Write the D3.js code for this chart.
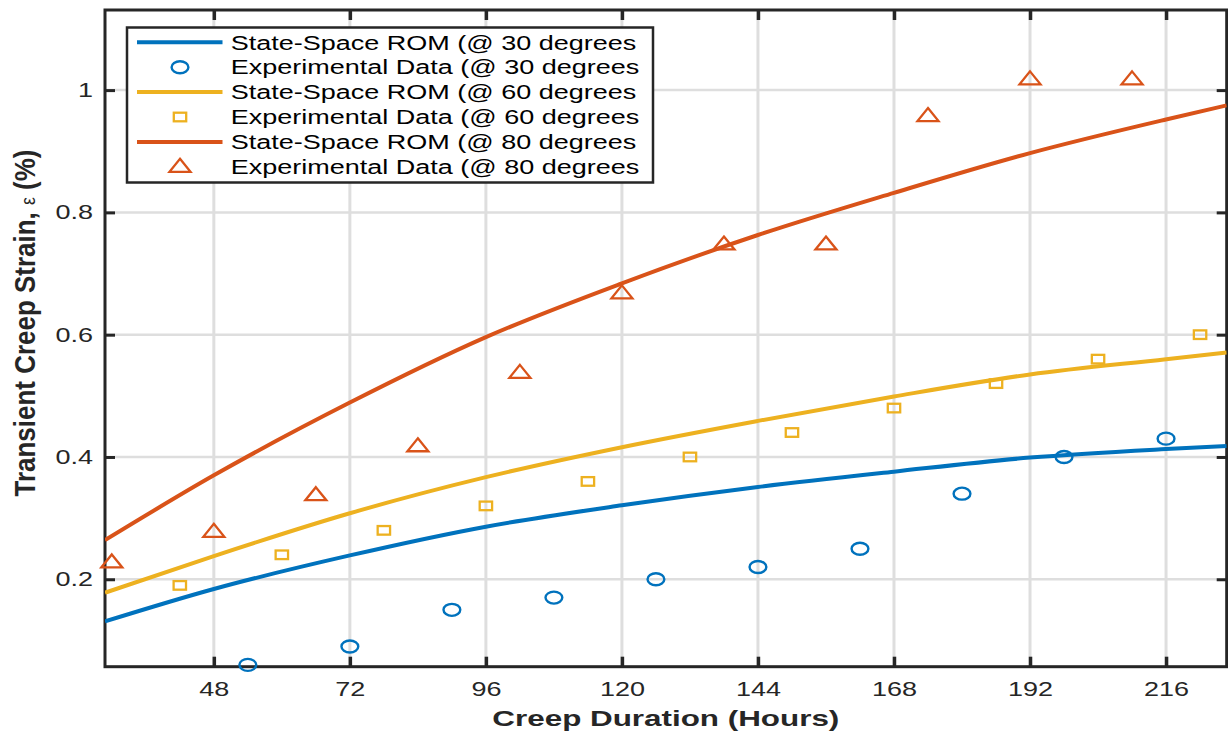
<!DOCTYPE html>
<html>
<head>
<meta charset="utf-8">
<script src="https://cdn.jsdelivr.net/npm/d3@7"></script>
<style>
  html, body { margin: 0; padding: 0; background: #fff; }
  svg { display: block; font-family: Arial, "Liberation Sans", Helvetica, sans-serif; }
</style>
</head>
<body>
<svg id="chart" width="1228" height="733"></svg>
<script>
// axis setup
const xDomain = [28.8, 226.7];
const yDomain = [0.057, 1.131];
const xTicks = [48, 72, 96, 120, 144, 168, 192, 216];
const yTicks = [0.2, 0.4, 0.6, 0.8, 1];
const yTickLabels = ['0.2', '0.4', '0.6', '0.8', '1'];

// state-space ROM curves
const modelHours = [28.8, 48, 72, 96, 120, 144, 168, 192, 216, 226.7];
const model30 = [0.131, 0.184, 0.239, 0.286, 0.321, 0.351, 0.376, 0.399, 0.413, 0.418];
const model60 = [0.178, 0.238, 0.308, 0.367, 0.416, 0.459, 0.499, 0.535, 0.560, 0.571];
const model80 = [0.264, 0.370, 0.489, 0.596, 0.684, 0.763, 0.832, 0.897, 0.952, 0.975];

// experimental points
const hours30 = [54, 72, 90, 108, 126, 144, 162, 180, 198, 216];
const exp30 = [0.06, 0.09, 0.15, 0.17, 0.20, 0.22, 0.25, 0.34, 0.40, 0.43];
const hours60 = [42, 60, 78, 96, 114, 132, 150, 168, 186, 204, 222];
const exp60 = [0.19, 0.24, 0.28, 0.32, 0.36, 0.40, 0.44, 0.48, 0.52, 0.56, 0.60];
const hours80 = [30, 48, 66, 84, 102, 120, 138, 156, 174, 192, 210];
const exp80 = [0.23, 0.28, 0.34, 0.42, 0.54, 0.67, 0.75, 0.75, 0.96, 1.02, 1.02];

const legendLabels = [
    'State-Space ROM (@ 30 degrees',
    'Experimental Data (@ 30 degrees',
    'State-Space ROM (@ 60 degrees',
    'Experimental Data (@ 60 degrees',
    'State-Space ROM (@ 80 degrees',
    'Experimental Data (@ 80 degrees'
];

const BLUE = '#0072BD';
const YELLOW = '#EDB120';
const ORANGE = '#D95319';
const AXIS = '#262626';
const GRID = '#dedede';

// the figure was stretched sideways, so text is widened by this factor
const SX = 1.35;

const L = 105, R = 1226.7, T = 10, B = 666.7;

const svg = d3.select('#chart');

const x = d3.scaleLinear().domain(xDomain).range([L, R]);
const y = d3.scaleLinear().domain(yDomain).range([B, T]);

function stretch(sel) {
    sel.each(function () {
        const len = this.getComputedTextLength();
        d3.select(this)
            .attr('textLength', len * SX)
            .attr('lengthAdjust', 'spacingAndGlyphs');
    });
}

// grid
const grid = svg.append('g');
grid.selectAll('line.vx').data(xTicks).enter().append('line')
    .attr('x1', d => x(d)).attr('x2', d => x(d))
    .attr('y1', T).attr('y2', B)
    .attr('stroke', GRID).attr('stroke-width', 3);
grid.selectAll('line.hy').data(yTicks).enter().append('line')
    .attr('x1', L).attr('x2', R)
    .attr('y1', d => y(d)).attr('y2', d => y(d))
    .attr('stroke', GRID).attr('stroke-width', 2.5);

// axes, ticks pointing inward
function styleAxis(g) {
    g.select('.domain').remove();
    g.selectAll('.tick line').attr('stroke', AXIS).attr('stroke-width', 3);
    g.selectAll('.tick text')
        .attr('fill', AXIS)
        .style('font-size', '20px')
        .style('font-family', 'Arial, "Liberation Sans", Helvetica, sans-serif');
}

const gx = svg.append('g').attr('transform', `translate(0,${B})`)
    .call(d3.axisBottom(x).tickValues(xTicks).tickSize(-10).tickPadding(15));
styleAxis(gx);
gx.selectAll('.tick line').attr('stroke-width', 3.5);

const gxTop = svg.append('g').attr('transform', `translate(0,${T})`)
    .call(d3.axisTop(x).tickValues(xTicks).tickSize(-10).tickFormat(''));
styleAxis(gxTop);
gxTop.selectAll('.tick line').attr('stroke-width', 3.5);

const gy = svg.append('g').attr('transform', `translate(${L},0)`)
    .call(d3.axisLeft(y).tickValues(yTicks).tickSize(-10).tickPadding(12)
        .tickFormat((d, i) => yTickLabels[i]));
styleAxis(gy);

const gyRight = svg.append('g').attr('transform', `translate(${R},0)`)
    .call(d3.axisRight(y).tickValues(yTicks).tickSize(-10).tickFormat(''));
styleAxis(gyRight);

stretch(gx.selectAll('.tick text'));
stretch(gy.selectAll('.tick text'));

// box
svg.append('rect')
    .attr('x', L).attr('y', T)
    .attr('width', R - L).attr('height', B - T)
    .attr('fill', 'none')
    .attr('stroke', AXIS)
    .attr('stroke-width', 3);

// axis titles
svg.append('text')
    .attr('x', (L + R) / 2)
    .attr('y', 726)
    .attr('text-anchor', 'middle')
    .attr('fill', AXIS)
    .style('font-size', '22px')
    .style('font-weight', 'bold')
    .attr('textLength', 347)
    .attr('lengthAdjust', 'spacingAndGlyphs')
    .text('Creep Duration (Hours)');

const yTitle = svg.append('text')
    .attr('transform', `translate(35,323) rotate(-90) scale(1,${SX})`)
    .attr('text-anchor', 'middle')
    .attr('fill', AXIS)
    .style('font-size', '22px')
    .style('font-weight', 'bold')
    .attr('textLength', 347)
    .attr('lengthAdjust', 'spacingAndGlyphs');
yTitle.append('tspan').text('Transient Creep Strain, ');
yTitle.append('tspan').style('font-weight', 'normal').style('font-size', '15px').text('ε');
yTitle.append('tspan').text(' (%)');

// clip for curves
svg.append('defs').append('clipPath').attr('id', 'plot-clip')
    .append('rect').attr('x', L).attr('y', T).attr('width', R - L).attr('height', B - T);

const line = d3.line()
    .x(d => x(d[0]))
    .y(d => y(d[1]))
    .curve(d3.curveMonotoneX);

const curves = [
    { values: model30, color: BLUE },
    { values: model60, color: YELLOW },
    { values: model80, color: ORANGE }
];

curves.forEach(c => {
    svg.append('path')
        .datum(modelHours.map((h, i) => [h, c.values[i]]))
        .attr('d', line)
        .attr('fill', 'none')
        .attr('stroke', c.color)
        .attr('stroke-width', 4)
        .attr('clip-path', 'url(#plot-clip)');
});

// marker drawing (sizes are in screen pixels)
function drawCircle(g, cx, cy, color) {
    g.append('ellipse')
        .attr('cx', cx).attr('cy', cy)
        .attr('rx', 8.4).attr('ry', 6)
        .attr('fill', 'none')
        .attr('stroke', color)
        .attr('stroke-width', 2.4);
}

function drawSquare(g, cx, cy, color) {
    const w = 12.4, h = 8.6;
    g.append('rect')
        .attr('x', cx - w / 2).attr('y', cy - h / 2)
        .attr('width', w).attr('height', h)
        .attr('fill', 'none')
        .attr('stroke', color)
        .attr('stroke-width', 2.3);
}

function drawTriangle(g, cx, cy, color) {
    const w = 21, h = 13;
    const p = d3.path();
    p.moveTo(cx, cy - h / 2);
    p.lineTo(cx + w / 2, cy + h / 2);
    p.lineTo(cx - w / 2, cy + h / 2);
    p.closePath();
    g.append('path')
        .attr('d', p.toString())
        .attr('fill', 'none')
        .attr('stroke', color)
        .attr('stroke-width', 2.3)
        .attr('stroke-linejoin', 'miter');
}

const marks = svg.append('g');
hours30.forEach((h, i) => drawCircle(marks, x(h), y(exp30[i]), BLUE));
hours60.forEach((h, i) => drawSquare(marks, x(h), y(exp60[i]), YELLOW));
hours80.forEach((h, i) => drawTriangle(marks, x(h), y(exp80[i]), ORANGE));

// legend
const lg = svg.append('g');
lg.append('rect')
    .attr('x', 127).attr('y', 27.5)
    .attr('width', 526).attr('height', 155)
    .attr('fill', '#fff')
    .attr('stroke', AXIS)
    .attr('stroke-width', 2.5);

const rowY = i => 42.3 + i * 24.9;
const legendKinds = [
    { type: 'line', color: BLUE },
    { type: 'circle', color: BLUE },
    { type: 'line', color: YELLOW },
    { type: 'square', color: YELLOW },
    { type: 'line', color: ORANGE },
    { type: 'triangle', color: ORANGE }
];

legendKinds.forEach((k, i) => {
    const cy = rowY(i);
    if (k.type === 'line') {
        lg.append('line')
            .attr('x1', 137).attr('x2', 222.5)
            .attr('y1', cy).attr('y2', cy)
            .attr('stroke', k.color).attr('stroke-width', 4);
    } else if (k.type === 'circle') {
        drawCircle(lg, 180, cy, k.color);
    } else if (k.type === 'square') {
        drawSquare(lg, 180, cy, k.color);
    } else {
        drawTriangle(lg, 180, cy - 1.5, k.color);
    }
    lg.append('text')
        .attr('x', 230.7)
        .attr('y', cy + 7.2)
        .attr('fill', '#000')
        .style('font-size', '20px')
        .text(legendLabels[i]);
});
stretch(lg.selectAll('text'));
</script>
</body>
</html>
